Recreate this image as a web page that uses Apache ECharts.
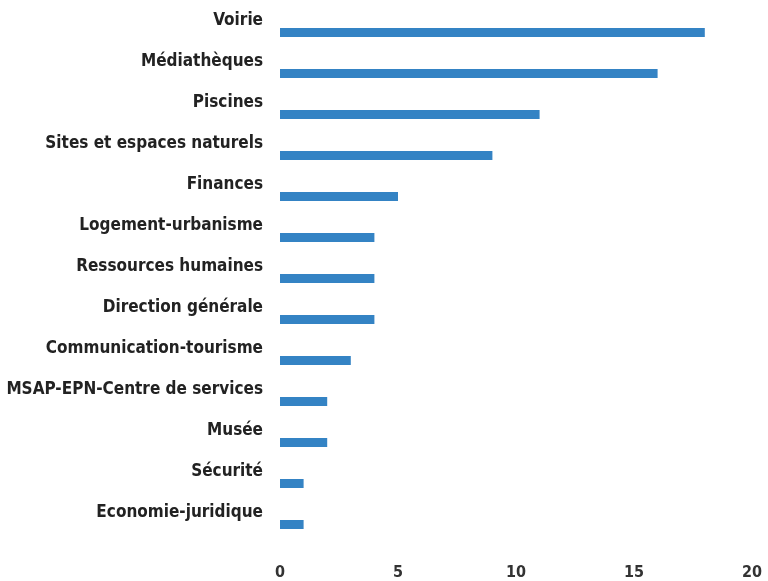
<!DOCTYPE html>
<html><head><meta charset="utf-8">
<script src="https://cdn.jsdelivr.net/npm/echarts@6/dist/echarts.min.js"></script>
<style>html,body{margin:0;padding:0;background:#fff}#c{width:768px;height:581px}</style>
</head><body><div id="c"></div>
<script>
const categories = ["Voirie","Médiathèques","Piscines","Sites et espaces naturels","Finances","Logement-urbanisme","Ressources humaines","Direction générale","Communication-tourisme","MSAP-EPN-Centre de services","Musée","Sécurité","Economie-juridique"];
const values = [18,16,11,9,5,4,4,4,3,2,2,1,1];
const xTicks = [0,5,10,15,20];

const chart = echarts.init(document.getElementById('c'));
chart.setOption({
  animation:false,
  grid:{left:280,right:16,top:12,bottom:33,containLabel:false},
  xAxis:{type:'value',min:0,max:20,interval:5,
    axisLine:{show:false},axisTick:{show:false},splitLine:{show:false},
    axisLabel:{margin:20,color:'#333',fontSize:16,fontFamily:'"Liberation Sans Narrow", "DejaVu Sans Condensed", sans-serif',fontWeight:'bold',
      formatter:v=>xTicks.includes(v)?String(v):''}},
  yAxis:{type:'category',data:categories,inverse:true,
    axisLine:{show:false},axisTick:{show:false},splitLine:{show:false},
    axisLabel:{margin:17,color:'#222',fontSize:17,fontWeight:'bold',
      fontFamily:'"Liberation Sans Narrow", "DejaVu Sans Condensed", sans-serif',
      verticalAlign:'bottom',padding:[0,0,3,0]}},
  series:[{type:'bar',data:values,barWidth:9,itemStyle:{color:'#3483c4'}}]
});
</script></body></html>
